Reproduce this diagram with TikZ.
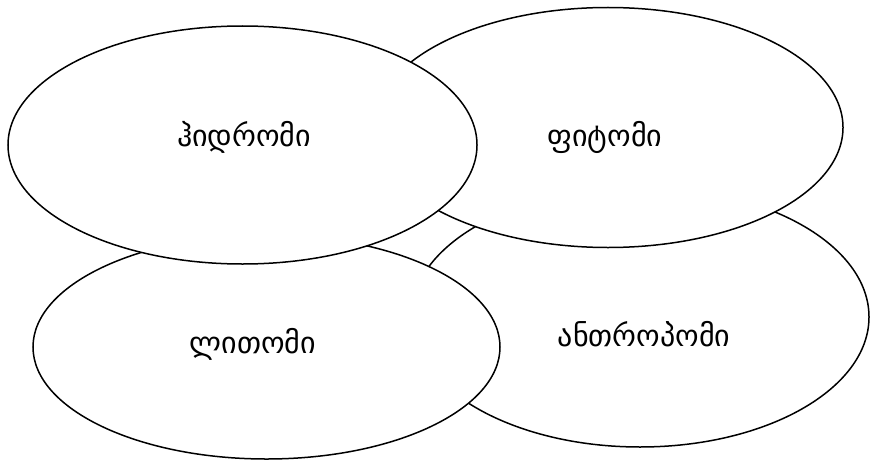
\documentclass[tikz,border=0pt]{standalone}
\usepackage{fontspec}
\newfontfamily\geofont{DejaVu Sans}
\usetikzlibrary{shapes.geometric, positioning}

\begin{document}
\begin{tikzpicture}[x=1pt, y=-1pt,
    sphere/.style={ellipse, draw=black, fill=white, line width=1.5pt, inner sep=0pt},
    label/.style={font=\geofont\fontsize{30}{34}\selectfont}]

    \useasboundingbox (0,0) rectangle (872,460);

    % back to front
    \node[sphere, minimum width=458pt, minimum height=260pt] (anthropo) at (640,317) {};
    \node[sphere, minimum width=467pt, minimum height=224pt] (litho) at (266.5,347) {};
    \node[sphere, minimum width=470pt, minimum height=240pt] (phyto) at (608,127.5) {};
    \node[sphere, minimum width=469pt, minimum height=238pt] (hydro) at (242.5,145) {};

    \node[label] (hydrotext) at (244,137) {ჰიდრომი};
    \node[label] (phytotext) at (605,137) {ფიტომი};
    \node[label] (lithotext) at (253,344) {ლითომი};
    \node[label] (anthropotext) at (644,334) {ანთროპომი};
\end{tikzpicture}
\end{document}
